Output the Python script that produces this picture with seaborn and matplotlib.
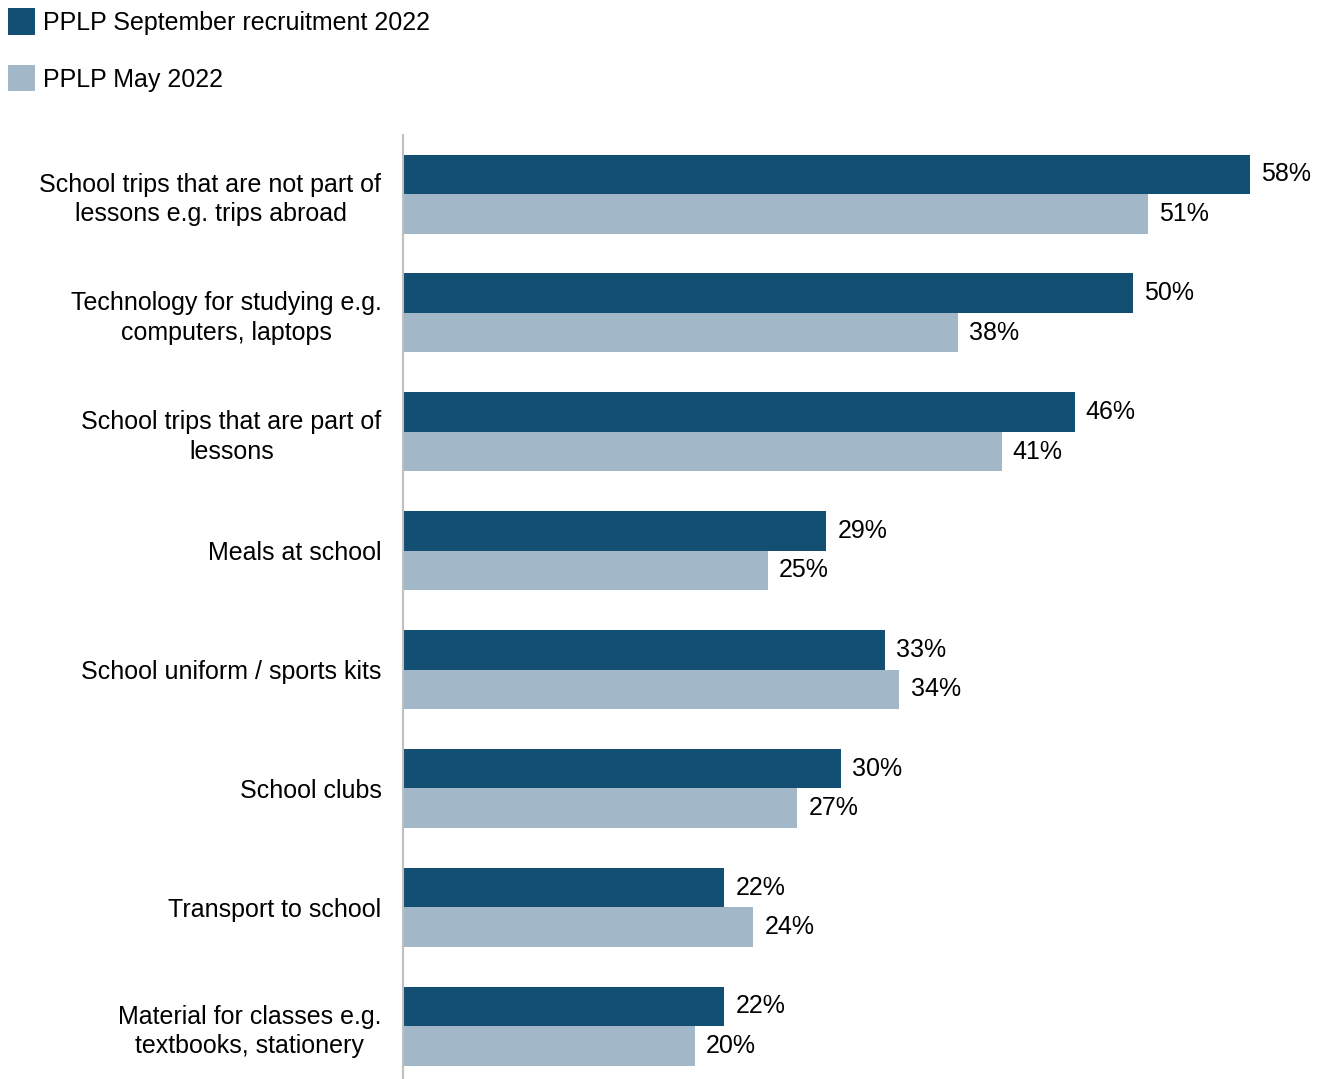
import matplotlib
matplotlib.use("Agg")
import matplotlib.pyplot as plt
from matplotlib.patches import Patch
import pandas as pd
import seaborn as sns

categories = [
    "School trips that are not part of\nlessons e.g. trips abroad",
    "Technology for studying e.g.\ncomputers, laptops",
    "School trips that are part of\nlessons",
    "Meals at school",
    "School uniform / sports kits",
    "School clubs",
    "Transport to school",
    "Material for classes e.g.\ntextbooks, stationery",
]
series_names = ["PPLP September recruitment 2022", "PPLP May 2022"]
september_values = [58, 50, 46, 29, 33, 30, 22, 22]
may_values = [51, 38, 41, 25, 34, 27, 24, 20]
colors = ["#124F73", "#A2B8C8"]

df = pd.DataFrame({
    "category": categories * 2,
    "series": [series_names[0]] * len(categories) + [series_names[1]] * len(categories),
    "value": september_values + may_values,
})

sns.set_theme(style="white")
plt.rcParams["font.family"] = ["Liberation Sans", "DejaVu Sans"]
plt.rcParams["text.color"] = "#000000"
fs = 18

W, H = 1324, 1079
fig = plt.figure(figsize=(W / 100, H / 100), dpi=100)
ax_top = 134.6
ax_h = 951
ax = fig.add_axes([403 / W, (H - ax_top - ax_h) / H, 1 - 403 / W, ax_h / H])

sns.barplot(
    data=df, y="category", x="value", hue="series", orient="h",
    palette=colors, saturation=1, width=0.665, ax=ax, legend=False,
    linewidth=0, edgecolor="none",
)

for container in ax.containers:
    ax.bar_label(container, labels=[f"{v:.0f}%" for v in container.datavalues],
                 padding=8, fontsize=fs, color="#000000")

ax.set_xlim(0, 921 / 14.6)
ax.set_ylim(len(categories) - 0.5, -0.5)
ax.set_xlabel("")
ax.set_ylabel("")
ax.set_xticks([])
ax.tick_params(axis="y", length=0, pad=15.5, labelsize=fs, labelcolor="#000000")
for lbl in ax.get_yticklabels():
    lbl.set_multialignment("center")
    lbl.set_linespacing(1.3)

for side in ["top", "right", "bottom"]:
    ax.spines[side].set_visible(False)
ax.spines["left"].set_color("#BFBFBF")
ax.spines["left"].set_linewidth(1.5)

handles = [Patch(facecolor=c, edgecolor="none") for c in colors]
leg = fig.legend(
    handles, series_names, loc="upper left", bbox_to_anchor=(0.0, 1.0),
    frameon=False, fontsize=fs, handlelength=1.08, handleheight=1.25,
    handletextpad=0.32, labelspacing=1.2, borderaxespad=0.0, borderpad=0.33,
)
for t in leg.get_texts():
    t.set_color("#000000")

fig.savefig("out.png", dpi=100)
